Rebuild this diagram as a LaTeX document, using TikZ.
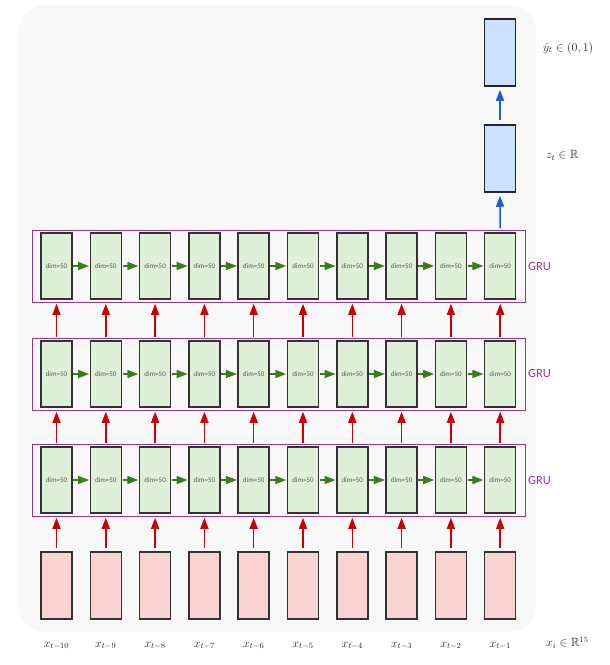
\documentclass[tikz,border=0pt]{standalone}
\usepackage{amsmath,amssymb}
\usepackage{fontspec}
\newfontfamily\grufont{Carlito}
\usetikzlibrary{arrows.meta,calc}
\definecolor{bgc}{HTML}{F8F8F8}
\definecolor{cellfill}{HTML}{DFF0D8}
\definecolor{infill}{HTML}{F9D2D2}
\definecolor{bluefill}{HTML}{CCE0FF}
\definecolor{greenarr}{HTML}{3D7A1E}
\definecolor{redarr}{HTML}{CC0000}
\definecolor{bluearr}{HTML}{1F5FCC}
\definecolor{purp}{HTML}{993399}
\definecolor{edgec}{HTML}{333333}
\tikzset{
  cell/.style={draw=edgec, line width=1.5pt, fill=cellfill, minimum width=31pt, minimum height=66pt, inner sep=0pt,
    font=\grufont\fontsize{7}{8}\selectfont, text=black!65},
  inbox/.style={draw=edgec, line width=1.5pt, fill=infill, minimum width=31pt, minimum height=67pt, inner sep=0pt},
  topbox/.style={draw=black!85, line width=1.5pt, fill=bluefill, minimum width=31pt, minimum height=67pt, inner sep=0pt},
  layerframe/.style={draw=purp, line width=0.9pt},
  grn/.style={draw=greenarr, line width=1.6pt, -{Triangle[length=11pt,width=8pt]}, shorten <=0.5pt, shorten >=0.5pt},
  redar/.style={draw=redarr, line width=1.5pt, -{Triangle[length=11pt,width=8pt]}, shorten <=3pt, shorten >=4pt},
  bluear/.style={draw=bluearr, line width=1.5pt, -{Triangle[length=11pt,width=8pt]}, shorten <=4pt, shorten >=3pt},
  grulab/.style={text=purp, font=\grufont\fontsize{12.5}{14}\selectfont, anchor=west, inner sep=0pt},
  mlab/.style={font=\fontsize{12}{14}\selectfont, inner sep=0pt, text=black!85},
}
\begin{document}
\begin{tikzpicture}[x=1pt,y=-1pt]
\useasboundingbox (0,0) rectangle (610,665);
\fill[bgc, rounded corners=26pt] (19,5) rectangle (536,632);
% layer frames
\draw[layerframe] (32,230) rectangle (525,302);
\draw[layerframe] (32,338) rectangle (525,410);
\draw[layerframe] (32,444) rectangle (525,516);
\foreach \i in {0,...,9}{
  \pgfmathsetmacro{\xx}{56.5+49.3*\i}
  \node[cell] (a\i) at (\xx,266) {dim=50};
  \node[cell] (b\i) at (\xx,374) {dim=50};
  \node[cell] (c\i) at (\xx,480) {dim=50};
  \node[inbox] (in\i) at (\xx,585.5) {};
}
\foreach \i [evaluate=\i as \j using int(\i+1)] in {0,...,8}{
  \draw[grn] (a\i.east) -- (a\j.west);
  \draw[grn] (b\i.east) -- (b\j.west);
  \draw[grn] (c\i.east) -- (c\j.west);
}
\foreach \i in {0,...,9}{
  \draw[redar] (in\i.north) -- (c\i.south);
  \draw[redar] (c\i.north) -- (b\i.south);
  \draw[redar] (b\i.north) -- (a\i.south);
}
\node[topbox] (z) at (500,158.5) {};
\node[topbox] (yh) at (500,52.5) {};
\draw[bluear] (a9.north) -- (z.south);
\draw[bluear] (z.north) -- (yh.south);
% labels
\node[grulab] (g1) at (528,266) {GRU};
\node[grulab] (g2) at (528,373) {GRU};
\node[grulab] (g3) at (528,480) {GRU};
\node[mlab, anchor=west] (ly) at (543,48) {$\hat{y}_t\in(0,1)$};
\node[mlab, anchor=west] (lz) at (546,155) {$z_t\in\mathbb{R}$};
\node[mlab, anchor=west] (lx) at (546,643) {$x_i\in\mathbb{R}^{15}$};
\foreach \i/\t in {0/{t-10},1/{t-9},2/{t-8},3/{t-7},4/{t-6},5/{t-5},6/{t-4},7/{t-3},8/{t-2},9/{t-1}}{
  \node[mlab] (xl\i) at ($(in\i.south)+(0,26)$) {$x_{\t}$};
}
\end{tikzpicture}
\end{document}
